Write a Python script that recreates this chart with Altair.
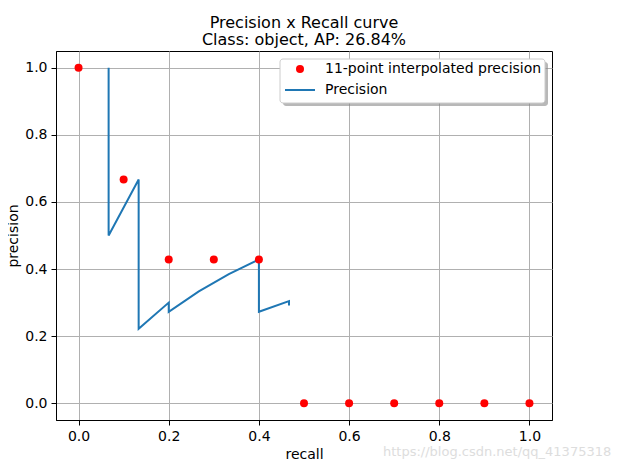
import altair as alt
import pandas as pd

# 11-point interpolated precision
interp_recall = [0.0, 0.1, 0.2, 0.3, 0.4, 0.5, 0.6, 0.7, 0.8, 0.9, 1.0]
interp_precision = [1.0, 0.6667, 0.4286, 0.4286, 0.4286, 0.0, 0.0, 0.0, 0.0, 0.0, 0.0]

# Precision curve
curve_recall = [0.0667, 0.0667, 0.1333, 0.1333, 0.2, 0.2, 0.2667, 0.3333, 0.4, 0.4, 0.4667, 0.4667]
curve_precision = [1.0, 0.5, 0.6667, 0.2222, 0.3, 0.2727, 0.3333, 0.3846, 0.4286, 0.2727, 0.3043, 0.2917]

title_lines = ["Precision x Recall curve", "Class: object, AP: 26.84%"]
legend_labels = ["11-point interpolated precision", "Precision"]

FONT = "DejaVu Sans"
W, H = 496, 369

pts = pd.DataFrame({"recall": interp_recall, "precision": interp_precision})
cur = pd.DataFrame({"recall": curve_recall, "precision": curve_precision,
                    "idx": list(range(len(curve_recall)))})

xs = alt.Scale(domain=[-0.05, 1.05], nice=False, zero=False)
ys = alt.Scale(domain=[-0.05, 1.05], nice=False, zero=False)
ticks = [0.0, 0.2, 0.4, 0.6, 0.8, 1.0]

xax = alt.Axis(values=ticks, format=".1f", title="recall", grid=True)
yax = alt.Axis(values=ticks, format=".1f", title="precision", grid=True)

line = alt.Chart(cur).mark_line(color="#1f77b4", strokeWidth=2).encode(
    x=alt.X("recall:Q", scale=xs, axis=xax),
    y=alt.Y("precision:Q", scale=ys, axis=yax),
    order="idx:O",
)

points = alt.Chart(pts).mark_circle(color="red", size=64, opacity=1).encode(
    x=alt.X("recall:Q", scale=xs),
    y=alt.Y("precision:Q", scale=ys),
)

one = pd.DataFrame({"a": [0]})
leg_shadow = alt.Chart(one).mark_rect(fill="#888888", opacity=0.6, cornerRadius=3).encode(
    x=alt.value(227), x2=alt.value(492), y=alt.value(11), y2=alt.value(55))
leg_box = alt.Chart(one).mark_rect(fill="white", stroke="#cccccc", strokeWidth=1, cornerRadius=3).encode(
    x=alt.value(224), x2=alt.value(489), y=alt.value(8), y2=alt.value(52))
leg_dot = alt.Chart(one).mark_circle(color="red", size=64, opacity=1).encode(
    x=alt.value(244), y=alt.value(18))
leg_line = alt.Chart(one).mark_rule(color="#1f77b4", strokeWidth=2).encode(
    x=alt.value(229), x2=alt.value(259), y=alt.value(39))
leg_t1 = alt.Chart(one).mark_text(align="left", baseline="middle", font=FONT, fontSize=14, color="black").encode(
    x=alt.value(269), y=alt.value(18), text=alt.value(legend_labels[0]))
leg_t2 = alt.Chart(one).mark_text(align="left", baseline="middle", font=FONT, fontSize=14, color="black").encode(
    x=alt.value(269), y=alt.value(39), text=alt.value(legend_labels[1]))

watermark = alt.Chart(one).mark_text(align="left", baseline="middle", font=FONT, fontSize=13,
                                     color="#dddddd").encode(
    x=alt.value(327), y=alt.value(401), text=alt.value("https://blog.csdn.net/qq_41375318"))

chart = alt.layer(
    line, points, leg_shadow, leg_box, leg_dot, leg_line, leg_t1, leg_t2, watermark
).properties(
    width=W, height=H,
    title=alt.TitleParams(text=title_lines, font=FONT, fontSize=16, fontWeight="normal",
                          color="black", anchor="middle", offset=3, lineHeight=17),
    autosize=alt.AutoSizeParams(type="none"),
    padding={"left": 48, "top": 43, "right": 76, "bottom": 40},
).configure_view(
    stroke="black", strokeWidth=1
).configure_axis(
    labelFont=FONT, titleFont=FONT, labelFontSize=14, titleFontSize=14,
    titleFontWeight="normal", labelColor="black", titleColor="black",
    tickColor="black", domainColor="black", tickSize=5, labelPadding=4,
    gridColor="#b0b0b0", gridWidth=1, domainWidth=1,
).configure_axisX(titlePadding=4).configure_axisY(titlePadding=4)

chart.save("out.html", embed_options={"renderer": "svg", "actions": False})
